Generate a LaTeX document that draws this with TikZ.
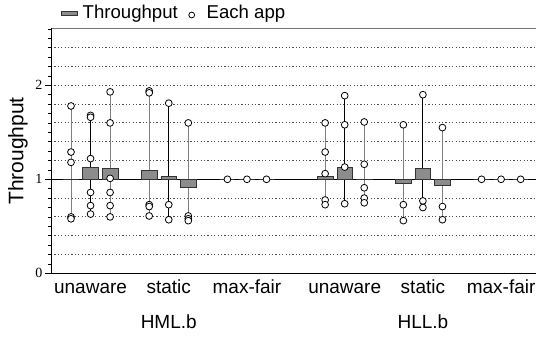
\documentclass[tikz,border=0pt]{standalone}
\usepackage{fontspec}
\setmainfont{Liberation Sans}
\newfontfamily\tickfont{Liberation Serif}
\usetikzlibrary{positioning}
\definecolor{barfill}{gray}{0.55}
\definecolor{gridgray}{gray}{0.3}
\definecolor{whisk}{gray}{0.5}

\begin{document}
\begin{tikzpicture}[x=1pt,y=1pt,
  lbl/.style={inner sep=0pt,font=\fontsize{19}{21}\selectfont},
  app/.style={draw=black,fill=white,line width=0.8pt},
  thru/.style={draw=black!80,fill=barfill,line width=0.7pt}]
\useasboundingbox (0,0) rectangle (536,338);
	% legend
	\filldraw [thru] (61,323) rectangle (77,327);
	\node [lbl,anchor=base west,font=\fontsize{18.6}{20}\selectfont] (legthru) at (82.5,319) {Throughput};
	\filldraw [app] (191.7,323) circle [radius=2.9];
	\node [lbl,anchor=base west,font=\fontsize{18.6}{20}\selectfont] (legapp) at (206.5,319) {Each app};
	\node [lbl,rotate=90,font=\fontsize{21}{23}\selectfont] (ylab) at (18,187) {Throughput};

	\begin{scope}[shift={(71pt,64.7pt)},x=19.55pt,y=94pt]
		% grid
		\foreach \g in {0.2,0.4,0.6,0.8,1.2,1.4,1.6,1.8,2.0,2.2,2.4}
			\draw [gridgray,dash pattern=on 1.1pt off 2.3pt,line width=0.8pt] (-1.02,\g) -- (23.8,\g);
		% axes
		\draw [black!55,line width=0.8pt] (-1.02,2.606) -- (23.8,2.606);
		\draw [line width=0.8pt] (-1.02,0) -- (23.8,0);
		\draw [line width=0.8pt] (-1.02,0) -- (-1.02,2.606);
		\foreach \k in {0,...,26}
			\draw [line width=0.6pt] (-1.02,\k/10) -- ++(-3pt,0pt);
		\foreach \k in {0,1,2} {
			\draw [line width=0.6pt] (-1.02,\k) -- ++(-6pt,0pt);
			\node [anchor=east,inner sep=0pt,font=\tickfont\fontsize{14}{14}\selectfont] (tick\k) at (-1.45,\k) {\k};
		}
		\draw [line width=0.9pt] (-1.02,1) -- (23.8,1);
		% bars, whiskers, apps
		\foreach \i/\v/\c/\hi/\lo/\pts in {
			0/1.0/whisk/1.78/0.58/{1.78,1.29,1.18,0.60,0.58},
			1/1.13/black/1.68/0.63/{1.68,1.66,1.22,0.86,0.72,0.63},
			2/1.12/whisk/1.93/0.60/{1.93,1.60,1.01,0.86,0.72,0.60},
			4/1.09/whisk/1.94/0.61/{1.94,1.92,0.73,0.71,0.61},
			5/1.03/black/1.81/0.57/{1.81,0.73,0.57},
			6/0.91/whisk/1.60/0.56/{1.60,0.61,0.58,0.56},
			8/1.0/whisk/1.0/1.0/{1.0},
			9/1.0/black/1.0/1.0/{1.0},
			10/1.0/whisk/1.0/1.0/{1.0},
			13/1.03/whisk/1.60/0.73/{1.60,1.29,1.06,0.78,0.73},
			14/1.13/black/1.89/0.74/{1.89,1.58,1.13,0.74},
			15/0.995/whisk/1.61/0.75/{1.61,1.16,0.91,0.80,0.75},
			17/0.96/whisk/1.58/0.56/{1.58,0.73,0.56},
			18/1.12/black/1.90/0.70/{1.90,0.77,0.70},
			19/0.94/whisk/1.55/0.57/{1.55,0.71,0.57},
			21/1.0/whisk/1.0/1.0/{1.0},
			22/1.0/black/1.0/1.0/{1.0},
			23/1.0/whisk/1.0/1.0/{1.0}} {
			\draw [\c,line width=1pt] (\i,\hi) -- (\i,\lo);
			\filldraw [thru] (\i-0.4,1) rectangle (\i+0.4,\v);
			\foreach \p in \pts
				\filldraw [app] (\i,\p) circle [radius=3.4pt];
		}
		% category labels
		\node [lbl,anchor=base] (hmlu) at (1,-0.213) {unaware};
		\node [lbl,anchor=base] (hmls) at (5,-0.213) {static};
		\node [lbl,anchor=base] (hmlm) at (9,-0.213) {max-fair};
		\node [lbl,anchor=base] (hllu) at (14,-0.213) {unaware};
		\node [lbl,anchor=base] (hlls) at (18,-0.213) {static};
		\node [lbl,anchor=base] (hllm) at (22,-0.213) {max-fair};
		\node [lbl,anchor=base] (hml) at (5,-0.585) {HML.b};
		\node [lbl,anchor=base] (hll) at (18,-0.585) {HLL.b};
	\end{scope}
\end{tikzpicture}
\end{document}
